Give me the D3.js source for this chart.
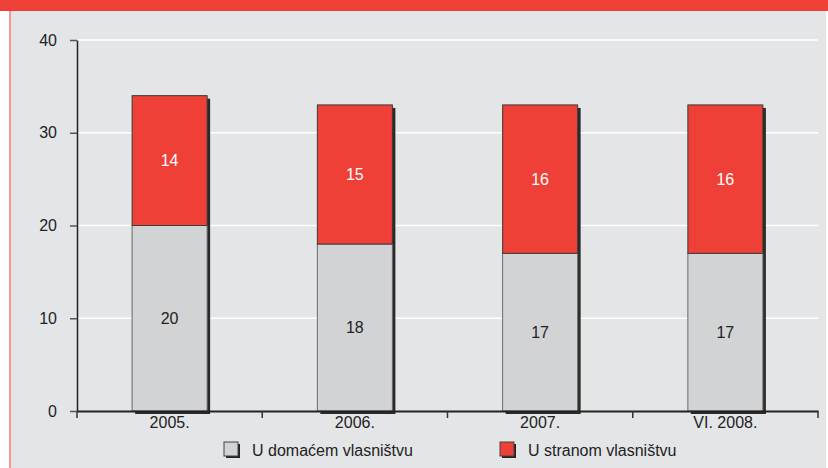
<!DOCTYPE html>
<html>
<head>
<meta charset="utf-8">
<script src="https://cdn.jsdelivr.net/npm/d3@7"></script>
<style>
  body { margin: 0; background: #fff; }
  svg { display: block; font-family: Arial, "Liberation Sans", sans-serif; }
</style>
</head>
<body>
<svg id="chart" width="828" height="468"></svg>
<script>
const categories = ['2005.', '2006.', '2007.', 'VI. 2008.']
const domestic = [20, 18, 17, 17]
const foreign = [14, 15, 16, 16]
const seriesNames = ['U domaćem vlasništvu', 'U stranom vlasništvu']
const yTicks = [0, 10, 20, 30, 40]

const colors = { domestic: '#d2d3d5', foreign: '#ee4036', bg: '#e4e5e7' }

const svg = d3.select('#chart')
const margin = { left: 77, right: 10, top: 40, bottom: 57 }
const width = 818 - margin.left
const height = 411 - margin.top

// panel background and red header strip
svg.append('rect').attr('x', 9).attr('y', 0).attr('width', 817).attr('height', 468).attr('fill', colors.bg)
svg.append('rect').attr('x', 9).attr('y', 0).attr('width', 2).attr('height', 468).attr('fill', '#f19a95')
svg.append('rect').attr('x', 0).attr('y', 0).attr('width', 828).attr('height', 11).attr('fill', colors.foreign)

const g = svg.append('g').attr('transform', `translate(${margin.left},${margin.top})`)

const x = d3.scaleBand().domain(categories).range([0, width]).paddingInner(0.595).paddingOuter(0.2975)
const y = d3.scaleLinear().domain([0, 40]).range([height, 0])

// gridlines
g.selectAll('.grid').data(yTicks.filter(d => d > 0)).enter().append('line')
  .attr('x1', 0).attr('x2', width)
  .attr('y1', d => y(d)).attr('y2', d => y(d))
  .attr('stroke', '#fff').attr('stroke-width', 1.5)

const stacks = categories.map((c, i) => ({
  cat: c,
  parts: [
    { key: 'domestic', y0: 0, y1: domestic[i], v: domestic[i] },
    { key: 'foreign', y0: domestic[i], y1: domestic[i] + foreign[i], v: foreign[i] },
  ],
}))

// shadows
g.selectAll('.shadow').data(stacks).enter().append('rect')
  .attr('x', d => x(d.cat) + 3)
  .attr('y', d => y(d.parts[1].y1) + 3)
  .attr('width', x.bandwidth())
  .attr('height', d => y(0) - y(d.parts[1].y1))
  .attr('fill', '#2a2a2a')

const bars = g.selectAll('.bar').data(stacks).enter().append('g')
bars.selectAll('rect').data(d => d.parts.map(p => ({ ...p, cat: d.cat }))).enter().append('rect')
  .attr('x', d => x(d.cat))
  .attr('y', d => y(d.y1))
  .attr('width', x.bandwidth())
  .attr('height', d => y(d.y0) - y(d.y1))
  .attr('fill', d => colors[d.key])
  .attr('stroke', d => d.key === 'foreign' ? '#3a3a3a' : '#6a6a6a')
  .attr('stroke-width', 1)

bars.selectAll('text').data(d => d.parts.map(p => ({ ...p, cat: d.cat }))).enter().append('text')
  .attr('x', d => x(d.cat) + x.bandwidth() / 2)
  .attr('y', d => (y(d.y0) + y(d.y1)) / 2)
  .attr('dy', '0.35em')
  .attr('text-anchor', 'middle')
  .attr('font-size', 16)
  .attr('fill', d => d.key === 'foreign' ? '#fff' : '#222')
  .text(d => d.v)

// y axis
const yAxis = g.append('g').call(d3.axisLeft(y).tickValues(yTicks).tickSize(7).tickSizeOuter(0))
yAxis.select('.domain').attr('stroke', '#222').attr('stroke-width', 1.5)
yAxis.selectAll('.tick line').attr('stroke', '#555').attr('stroke-width', 1.5)
yAxis.selectAll('.tick text').attr('font-size', 16).attr('fill', '#222').attr('x', -20)

// x axis
const xAxis = g.append('g').attr('transform', `translate(0,${height})`)
  .call(d3.axisBottom(x).tickSize(0).tickSizeOuter(0))
xAxis.select('.domain').attr('stroke', '#222').attr('stroke-width', 2)
xAxis.selectAll('.tick text').attr('font-size', 16).attr('fill', '#222').attr('y', 6)
const boundaries = d3.range(categories.length + 1).map(i => i * x.step() - x.step() * x.paddingInner() / 2 + x.step() * x.paddingOuter())
xAxis.selectAll('.sep').data(boundaries).enter().append('line')
  .attr('x1', d => d).attr('x2', d => d)
  .attr('y1', 0).attr('y2', 7)
  .attr('stroke', '#333').attr('stroke-width', 1.5)

// legend
const legendX = [224, 500]
const legend = svg.selectAll('.legend').data(seriesNames).enter().append('g')
  .attr('transform', (d, i) => `translate(${legendX[i]},442)`)
legend.append('rect').attr('x', 2).attr('y', 2).attr('width', 14).attr('height', 14).attr('fill', '#222')
legend.append('rect').attr('width', 14).attr('height', 14)
  .attr('fill', (d, i) => i === 0 ? colors.domestic : colors.foreign)
  .attr('stroke', '#444').attr('stroke-width', 1)
legend.append('text').attr('x', 28).attr('y', 8).attr('dy', '0.35em')
  .attr('font-size', 16).attr('fill', '#222').text(d => d)
</script>
</body>
</html>
